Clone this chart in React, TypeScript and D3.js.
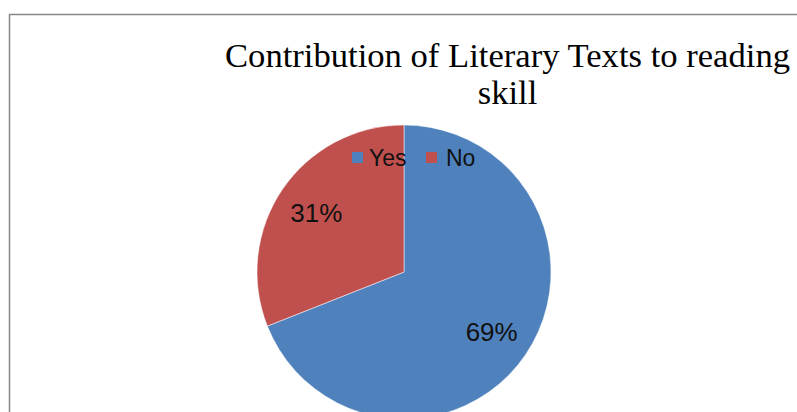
import React from "react";
import * as d3 from "d3";

const categories = ["Yes", "No"];
const values = [69, 31];
const colors = ["#4F81BD", "#C0504D"];
const titleLines = ["Contribution of Literary Texts to reading", "skill"];

export default function App() {
  const W = 797;
  const H = 412;
  const cx = 404;
  const cy = 272;
  const r = 147;
  const total = d3.sum(values);
  const pie = d3.pie<number>().sort(null).value((d) => d)(values);
  const arc = d3.arc<d3.PieArcDatum<number>>().innerRadius(0).outerRadius(r);
  const labelArc = d3.arc<d3.PieArcDatum<number>>().innerRadius(106).outerRadius(106);
  const legendX = [352, 426];
  const textX = [369, 446];

  return (
    <svg
      width={W}
      height={H}
      style={{ position: "absolute", left: 0, top: 0, background: "#fff" }}
    >
      <rect x={0} y={0} width={W} height={H} fill="#fff" />
      <rect x={9.5} y={14.5} width={W + 20} height={H + 20} fill="#fff" stroke="#868686" strokeWidth={1.5} />
      {titleLines.map((t, i) => (
        <text
          key={i}
          x={507.5}
          y={67 + i * 37}
          textAnchor="middle"
          fontFamily="'Liberation Serif', 'Times New Roman', serif"
          fontSize={34.5}
          fill="#000"
          {...(i === 0 ? { textLength: 565, lengthAdjust: "spacingAndGlyphs" } : {})}
        >
          {t}
        </text>
      ))}
      <g transform={`translate(${cx},${cy})`}>
        {pie.map((p, i) => (
          <path key={i} d={arc(p) || ""} fill={colors[i]} stroke="#fff" strokeWidth={0.5} />
        ))}
        {pie.map((p, i) => {
          const [lx, ly] = labelArc.centroid(p);
          return (
            <text
              key={"l" + i}
              x={lx}
              y={ly}
              dy="0.36em"
              textAnchor="middle"
              fontFamily="'Liberation Sans', Arial, sans-serif"
              fontSize={26}
              fill="#111"
            >
              {`${Math.round((values[i] / total) * 100)}%`}
            </text>
          );
        })}
      </g>
      {categories.map((c, i) => (
        <g key={c}>
          <rect x={legendX[i]} y={152} width={11} height={11} fill={colors[i]} />
          <text
            x={textX[i]}
            y={166}
            fontFamily="'Liberation Sans', Arial, sans-serif"
            fontSize={23}
            fill="#111"
          >
            {c}
          </text>
        </g>
      ))}
    </svg>
  );
}
